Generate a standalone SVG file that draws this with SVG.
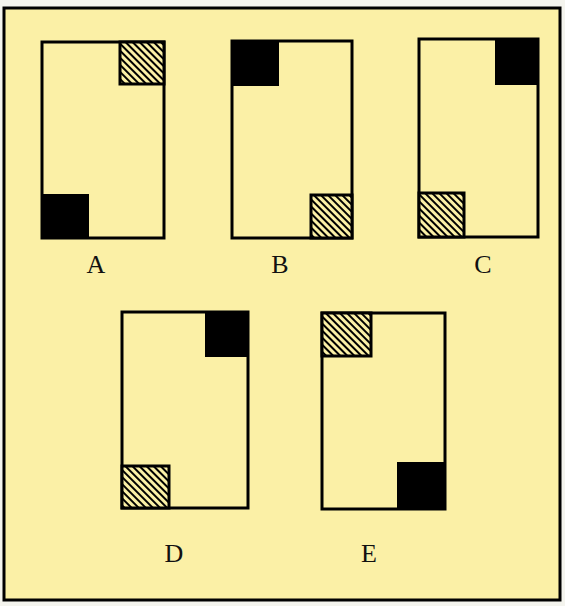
<svg xmlns="http://www.w3.org/2000/svg" width="565" height="606" viewBox="0 0 565 606">
<style>
.frame{fill:none;stroke:#000;stroke-width:3}
.blk{fill:#000;stroke:#000;stroke-width:2}
.hat{fill:url(#hatch);stroke:#000;stroke-width:3}
.lbl{font-family:"Liberation Serif",serif;font-size:26px;fill:#111;text-anchor:middle}
</style>
<defs>
<pattern id="hatch" patternUnits="userSpaceOnUse" width="5" height="5" patternTransform="rotate(45)">
<rect width="5" height="5" fill="#fbf0a6"/>
<rect y="0" width="5" height="2" fill="#000"/>
</pattern>
</defs>
<rect width="565" height="606" fill="#f4f4ee"/>
<rect x="4" y="8" width="556" height="592" fill="#fbf0a6" stroke="#000" stroke-width="3"/>
<g id="A">
<rect class="frame" x="42" y="42" width="122" height="196"/>
<rect class="hat" x="120" y="42" width="44" height="42"/>
<rect class="blk" x="42" y="195" width="46" height="43"/>
<text class="lbl" x="96" y="273">A</text>
</g>
<g id="B">
<rect class="frame" x="232" y="41" width="120" height="197"/>
<rect class="blk" x="232" y="41" width="46" height="44"/>
<rect class="hat" x="311" y="195" width="41" height="43"/>
<text class="lbl" x="280" y="273">B</text>
</g>
<g id="C">
<rect class="frame" x="419" y="39" width="119" height="198"/>
<rect class="blk" x="496" y="39" width="42" height="45"/>
<rect class="hat" x="419" y="193" width="45" height="44"/>
<text class="lbl" x="483" y="273">C</text>
</g>
<g id="D">
<rect class="frame" x="122" y="312" width="126" height="196"/>
<rect class="blk" x="206" y="312" width="42" height="44"/>
<rect class="hat" x="122" y="466" width="47" height="42"/>
<text class="lbl" x="174" y="562">D</text>
</g>
<g id="E">
<rect class="frame" x="322" y="313" width="123" height="196"/>
<rect class="hat" x="322" y="313" width="49" height="43"/>
<rect class="blk" x="398" y="463" width="47" height="46"/>
<text class="lbl" x="369" y="562">E</text>
</g>
<g id="connectors"></g>
</svg>
